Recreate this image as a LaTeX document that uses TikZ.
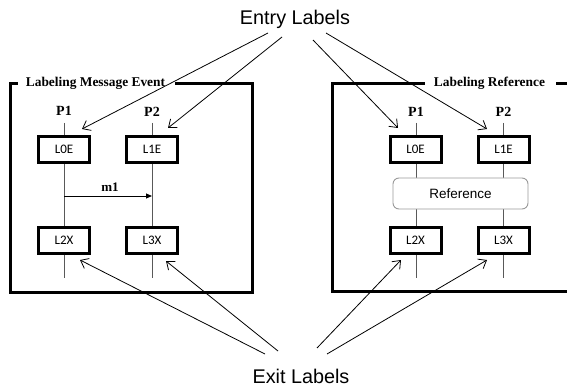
\documentclass[tikz,border=0pt]{standalone}
\usepackage{fontspec}
\setmainfont{Liberation Serif}
\newfontfamily\boxfont{Carlito}
\newfontfamily\labelfont{Liberation Sans}
\usetikzlibrary{arrows.meta}
\tikzset{
  frameline/.style={line width=3pt, line cap=rect},
  lbox/.style={draw, line width=3pt, fill=white, minimum width=51pt, minimum height=26pt,
               inner sep=0pt, font=\boxfont\fontsize{13}{15}\selectfont},
  lifeline/.style={draw=black!65, line width=0.9pt},
  proc/.style={font=\bfseries\fontsize{14}{16}\selectfont, anchor=base},
  frametitle/.style={font=\bfseries\fontsize{13.4}{15}\selectfont, anchor=base},
  biglabel/.style={font=\labelfont\fontsize{19.8}{22}\selectfont, anchor=base},
  pointer/.style={draw, line width=0.8pt, -{Straight Barb[length=7pt,width=11pt,line width=0.8pt]}},
  msg/.style={draw, line width=0.9pt, -{Triangle[length=6pt,width=5pt]}},
  refbox/.style={draw=black!40, line width=0.9pt, rounded corners=6pt, fill=white,
                 minimum width=135pt, minimum height=31pt, inner sep=0pt,
                 font=\labelfont\fontsize{13.5}{15}\selectfont}
}
\begin{document}
\begin{tikzpicture}[x=1pt, y=-1pt]
\useasboundingbox (0,0) rectangle (567,390);
\clip (0,0) rectangle (567,390);
\fill[white] (0,0) rectangle (567,390);

% ---- left frame: message event ----
\draw[frameline] (16,84) -- (10.5,84) -- (10.5,292.5) -- (252.5,292.5) -- (252.5,84) -- (176,84);
\node[frametitle] (t1) at (95.5,87) {Labeling Message Event};

\node[proc] (p1a) at (64,116) {P1};
\node[proc] (p2a) at (152,117) {P2};
\coordinate (a1top) at (64,123);   \coordinate (a1bot) at (64,278);
\coordinate (a2top) at (152,123);  \coordinate (a2bot) at (152,278);
\draw[lifeline] (a1top) -- (a1bot);
\draw[lifeline] (a2top) -- (a2bot);

\node[lbox] (l0a) at (64,149.5) {L0E};
\node[lbox] (l1a) at (152,149.5) {L1E};
\node[lbox] (l2a) at (64,240) {L2X};
\node[lbox] (l3a) at (152,240) {L3X};

\coordinate (m1s) at (64,196);
\coordinate (m1e) at (152,196);
\draw[msg] (m1s) -- (m1e);
\node[font=\bfseries\fontsize{13}{15}\selectfont, anchor=base] (m1) at (110,191) {m1};

% ---- right frame: reference ----
\draw[frameline] (423,84) -- (332.5,84) -- (332.5,291) -- (575,291);
\draw[frameline] (557,84) -- (575,84);
\node[frametitle] (t2) at (489.5,87) {Labeling Reference};

\node[proc] (p1b) at (416,117) {P1};
\node[proc] (p2b) at (503.5,117) {P2};
\coordinate (b1top) at (416,123);  \coordinate (b1bot) at (416,278);
\coordinate (b2top) at (503.5,123);  \coordinate (b2bot) at (503.5,278);
\draw[lifeline] (b1top) -- (b1bot);
\draw[lifeline] (b2top) -- (b2bot);

\node[lbox] (l0b) at (415.5,149.5) {L0E};
\node[lbox] (l1b) at (503.5,149.5) {L1E};
\node[lbox] (l2b) at (415.5,240.5) {L2X};
\node[lbox] (l3b) at (503.5,240.5) {L3X};
\node[refbox] (ref) at (460.5,193.5) {Reference};

% ---- entry labels ----
\node[biglabel] (entry) at (295,25) {Entry Labels};
\coordinate (e1) at (268,33);  \coordinate (e1t) at (82,129);
\coordinate (e2) at (282,37);  \coordinate (e2t) at (168,128);
\coordinate (e3) at (313,40);  \coordinate (e3t) at (398,128);
\coordinate (e4) at (326,33);  \coordinate (e4t) at (487,129);
\draw[pointer] (e1) -- (e1t);
\draw[pointer] (e2) -- (e2t);
\draw[pointer] (e3) -- (e3t);
\draw[pointer] (e4) -- (e4t);

% ---- exit labels ----
\node[biglabel] (exit) at (301,383) {Exit Labels};
\coordinate (x1) at (265,354);  \coordinate (x1t) at (80,260);
\coordinate (x2) at (278,351);  \coordinate (x2t) at (166,261);
\coordinate (x3) at (317,348);  \coordinate (x3t) at (401,260);
\coordinate (x4) at (327,354);  \coordinate (x4t) at (487,260);
\draw[pointer] (x1) -- (x1t);
\draw[pointer] (x2) -- (x2t);
\draw[pointer] (x3) -- (x3t);
\draw[pointer] (x4) -- (x4t);
\end{tikzpicture}
\end{document}
